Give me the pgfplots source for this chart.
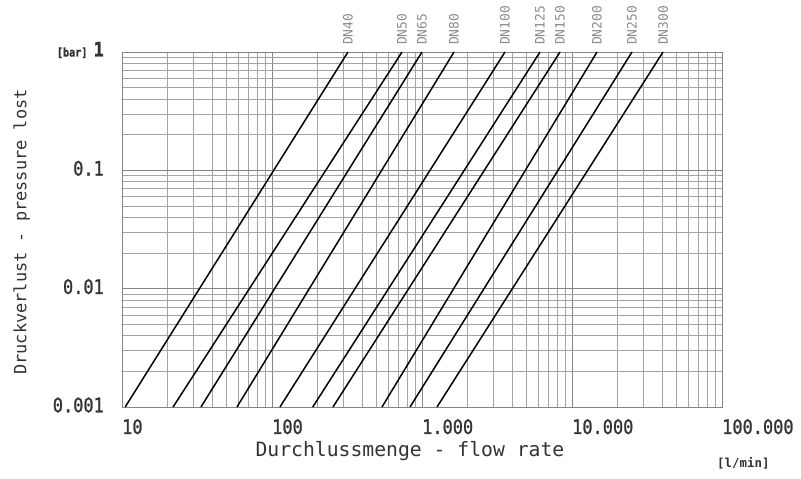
\documentclass[border=0pt]{standalone}
\usepackage{fontspec}
\setmainfont{DejaVu Sans Mono}
\newfontfamily\tickfont[FakeStretch=0.85, FakeBold=1.2]{DejaVu Sans Mono}
\usepackage{pgfplots}
\pgfplotsset{compat=1.18}

\begin{document}
\begin{tikzpicture}
\begin{loglogaxis}[
    scale only axis,
    width=600bp,
    height=355bp,
    xmin=10, xmax=100000,
    ymin=0.001, ymax=1,
    clip=false,
    grid=both,
    major grid style={draw=black!48, line width=0.8bp},
    minor grid style={draw=black!36, line width=0.7bp},
    axis line style={draw=black!48, line width=0.8bp},
    major tick length=0pt,
    minor tick length=0pt,
    xtick={10,100,1000,10000,100000},
    xticklabels={10,100,1.000,10.000,100.000},
    ytick={0.001,0.01,0.1,1},
    yticklabels={0.001,0.01,0.1,{\fontsize{12}{12}\selectfont\bfseries[bar]\ \fontsize{20}{20}\selectfont 1}},
    x tick label style={inner sep=0pt, anchor=north west, yshift=-12bp,
        font=\tickfont\fontsize{20}{20}\selectfont, text=black!80},
    y tick label style={inner sep=0pt, anchor=east, xshift=-18bp, yshift=2bp,
        font=\tickfont\fontsize{20}{20}\selectfont, text=black!80},
    xlabel={Durchlussmenge - flow rate},
    xlabel style={at={(axis description cs:0.48,0)}, anchor=north, yshift=-34bp,
        inner sep=0pt, font=\fontsize{19.8}{20}\selectfont, text=black!80},
    ylabel={Druckverlust - pressure lost},
    ylabel style={at={(axis description cs:-0.153,0.493)}, rotate=0, anchor=south,
        inner sep=0pt, font=\fontsize{17}{17}\selectfont, text=black!80},
]

% DN lines, read at the bottom (0.001 bar) and top (1 bar) edges
\addplot[black, line width=1.5bp] coordinates {(10.5,0.001)(321,1)};
\addplot[black, line width=1.5bp] coordinates {(21.9,0.001)(736,1)};
\addplot[black, line width=1.5bp] coordinates {(33.6,0.001)(1000,1)};
\addplot[black, line width=1.5bp] coordinates {(58.4,0.001)(1635,1)};
\addplot[black, line width=1.5bp] coordinates {(113,0.001)(3575,1)};
\addplot[black, line width=1.5bp] coordinates {(187,0.001)(6120,1)};
\addplot[black, line width=1.5bp] coordinates {(255,0.001)(8318,1)};
\addplot[black, line width=1.5bp] coordinates {(541,0.001)(14680,1)};
\addplot[black, line width=1.5bp] coordinates {(832,0.001)(25120,1)};
\addplot[black, line width=1.5bp] coordinates {(1259,0.001)(40450,1)};

\begin{scope}[every node/.style={rotate=90, anchor=west, inner sep=0pt,
    font=\fontsize{13}{13}\selectfont, text=black!45}]
\node at (axis cs:321,1)   [xshift=7bp] {DN40};
\node at (axis cs:736,1)   [xshift=7bp] {DN50};
\node at (axis cs:1000,1)  [xshift=7bp] {DN65};
\node at (axis cs:1635,1)  [xshift=7bp] {DN80};
\node at (axis cs:3575,1)  [xshift=7bp] {DN100};
\node at (axis cs:6120,1)  [xshift=7bp] {DN125};
\node at (axis cs:8318,1)  [xshift=7bp] {DN150};
\node at (axis cs:14680,1) [xshift=7bp] {DN200};
\node at (axis cs:25120,1) [xshift=7bp] {DN250};
\node at (axis cs:40450,1) [xshift=7bp] {DN300};
\end{scope}

\node[anchor=north west, inner sep=0pt, font=\bfseries\fontsize{12.5}{12.5}\selectfont, text=black!80]
    at (axis cs:100000,0.001) [xshift=-5bp, yshift=-50bp] {[l/min]};
\end{loglogaxis}
\pgfresetboundingbox
\path[use as bounding box] (current axis.south west) ++(-122bp,-72bp) rectangle ++(801bp,479bp);
\end{tikzpicture}
\end{document}
